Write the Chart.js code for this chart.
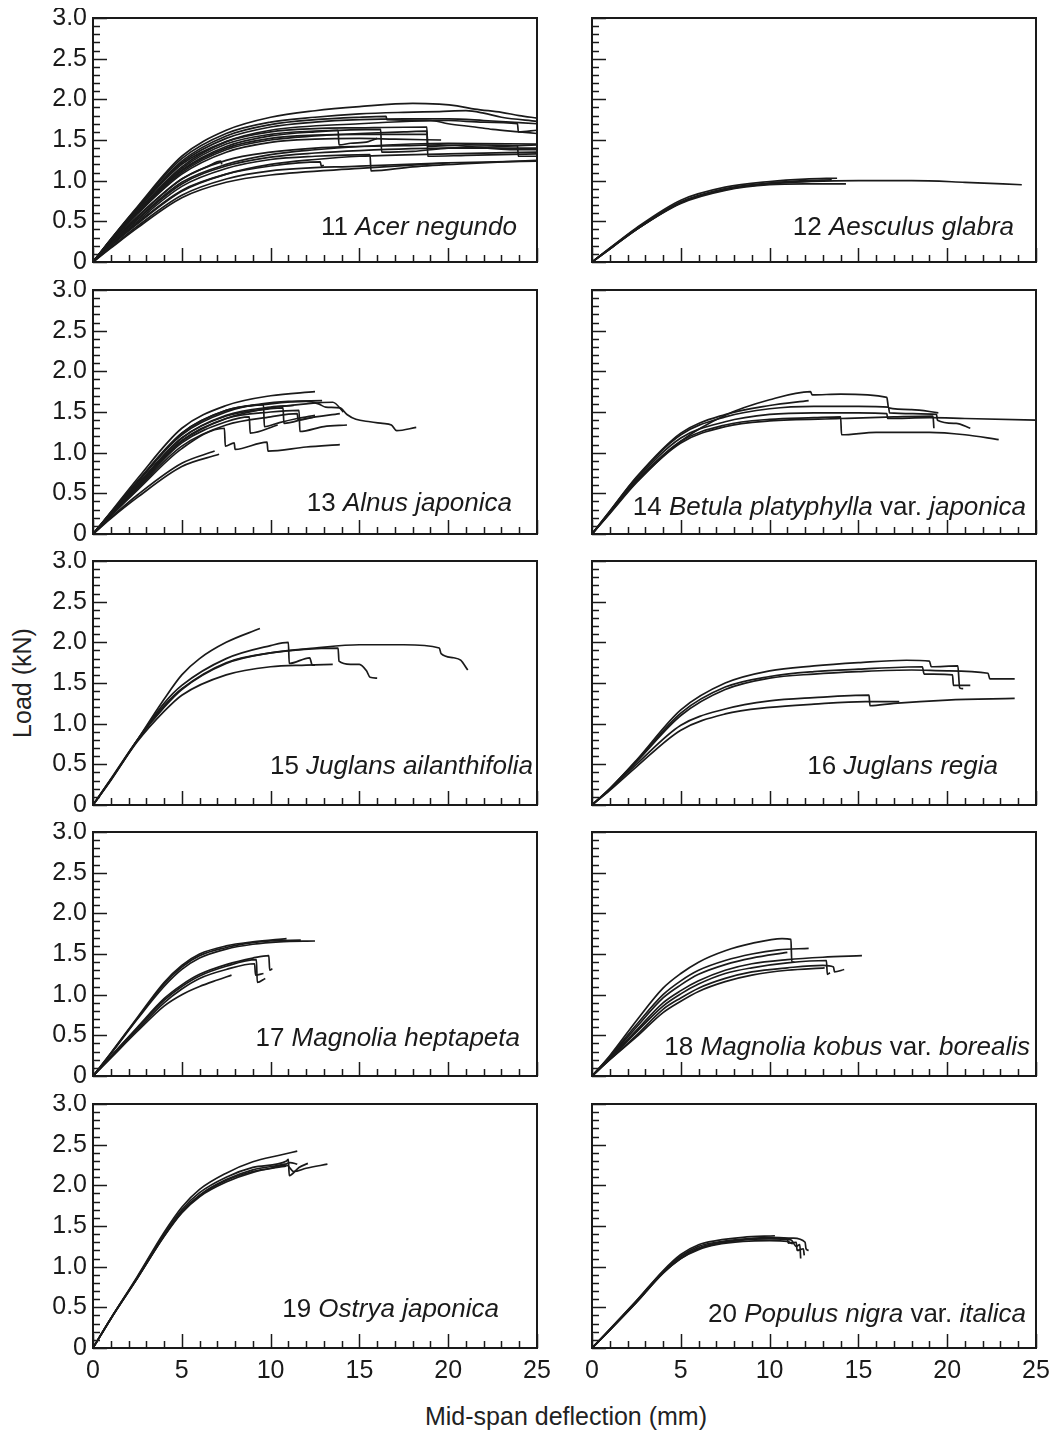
<!DOCTYPE html>
<html lang="en">
<head>
  <meta charset="UTF-8">
  <title>Load - mid-span deflection curves</title>
  <script src="https://cdn.jsdelivr.net/npm/chart.js@4"></script>
  <style>
    body { margin: 0; background: #fff; font-family: 'Liberation Sans', Arial, sans-serif; color: #222; }
    #page { position: relative; width: 1058px; height: 1433px; overflow: hidden; }
    .panel { position: absolute; }
    .axis-title { position: absolute; font-size: 25px; white-space: nowrap; }
    #ytitle { left: 22px; top: 683px; transform: translate(-50%, -50%) rotate(-90deg); }
    #xtitle { left: 566px; top: 1416px; transform: translate(-50%, -50%); }
  </style>
</head>
<body>
  <div id="page">
    <div id="ytitle" class="axis-title">Load (kN)</div>
    <div id="xtitle" class="axis-title">Mid-span deflection (mm)</div>
  </div>
  <script>
    // data: one array of curves per species, each curve = [deflection mm, load kN] pairs
    var acerNegundo = [
      [[0,0],[1,0.28],[2.5,0.68],[5,1.3],[7.5,1.62],[10,1.78],[12.5,1.86],[15,1.91],[18,1.95],[19.5,1.94],[20.5,1.92],[21.5,1.88],[23,1.84],[24,1.8],[25,1.77]],
      [[0,0],[1,0.28],[2.5,0.67],[5,1.27],[7.5,1.58],[10,1.72],[12.5,1.78],[15,1.82],[17.5,1.84],[19.5,1.85],[21,1.86],[22,1.83],[23,1.78],[25,1.73]],
      [[0,0],[1,0.27],[2.5,0.65],[5,1.24],[7.5,1.55],[10,1.69],[12.5,1.75],[15,1.78],[16.5,1.79],[16.55,1.75],[19,1.74],[20,1.7],[21.5,1.66],[22.5,1.63],[24,1.6],[25,1.58]],
      [[0,0],[1,0.27],[2.5,0.64],[5,1.2],[7.5,1.48],[10,1.6],[12.5,1.64],[15,1.65],[18.8,1.66],[18.85,1.3],[21,1.31],[25,1.33]],
      [[0,0],[1,0.26],[2.5,0.62],[5,1.15],[7.5,1.45],[10,1.57],[12.5,1.61],[13.8,1.62],[13.85,1.44],[14.5,1.46],[15.5,1.48],[16,1.52]],
      [[0,0],[1,0.26],[2.5,0.61],[5,1.13],[7.5,1.42],[10,1.55],[12.5,1.6],[16.2,1.63],[16.25,1.35],[18,1.36],[20,1.4],[23,1.42],[25,1.44]],
      [[0,0],[1,0.25],[2.5,0.6],[5,1.1],[7.5,1.38],[10,1.5],[12.5,1.55],[15,1.58],[17.5,1.6],[18.8,1.61],[18.85,1.42],[21,1.44],[23.9,1.43],[23.95,1.3],[25,1.3]],
      [[0,0],[1,0.25],[2.5,0.59],[5,1.08],[7.5,1.35],[10,1.47],[12.5,1.51],[15,1.52],[17,1.51],[19.6,1.5]],
      [[0,0],[1,0.26],[2.5,0.62],[5,1.17],[7.5,1.48],[10,1.62],[15,1.7],[20,1.74],[22,1.72],[23.9,1.7],[23.95,1.6],[25,1.62]],
      [[0,0],[1,0.22],[2.5,0.53],[5,0.98],[7.5,1.2],[10,1.32],[12.5,1.38],[15,1.42],[20,1.46],[25,1.45]],
      [[0,0],[1,0.22],[2.5,0.52],[5,0.96],[7.5,1.18],[10,1.29],[12.5,1.34],[15,1.37],[20,1.4],[25,1.4]],
      [[0,0],[1,0.21],[2.5,0.5],[5,0.93],[7.5,1.15],[10,1.26],[12.5,1.3],[15.6,1.32],[15.65,1.12],[18,1.17],[21,1.21],[25,1.25]],
      [[0,0],[1,0.23],[2.5,0.56],[5,1.02],[6.5,1.18],[7.2,1.24],[7.25,1.2]],
      [[0,0],[1,0.2],[2.5,0.48],[5,0.88],[7.5,1.08],[10,1.18],[12.8,1.23],[12.85,1.18],[13,1.19]],
      [[0,0],[1,0.18],[2.5,0.44],[5,0.82],[7.5,1.02],[10,1.12],[15,1.18],[20,1.22],[25,1.24]],
      [[0,0],[1,0.17],[2.5,0.42],[5,0.79],[7.5,0.98],[10,1.07],[15,1.15],[20.1,1.22]],
      [[0,0],[1,0.2],[2.5,0.47],[5,0.87],[7.5,1.08],[10,1.2],[12.5,1.26],[15,1.3],[20,1.33],[25,1.35]],
      [[0,0],[1,0.27],[2.5,0.66],[5,1.22],[7.5,1.52],[10,1.66],[12.5,1.72],[15,1.75],[17.5,1.76],[20,1.76],[22,1.74],[25,1.7]],
      [[0,0],[1,0.25],[2.5,0.61],[5,1.12],[7.5,1.4],[10,1.52],[12.5,1.56],[15,1.57],[18,1.57],[18.8,1.57]],
      [[0,0],[1,0.23],[2.5,0.55],[5,1.02],[7.5,1.25],[10,1.35],[12.5,1.4],[15,1.42],[17.5,1.43],[19.5,1.44],[23.9,1.38],[25,1.38]]
    ];
    var aesculusGlabra = [
      [[0,0],[1,0.17],[2.5,0.42],[5,0.76],[7.5,0.92],[10,0.99],[12,1.02],[13.8,1.03]],
      [[0,0],[1,0.17],[2.5,0.41],[5,0.74],[7.5,0.9],[10,0.97],[12,1.0],[13.5,1.01]],
      [[0,0],[1,0.16],[2.5,0.4],[5,0.72],[7.5,0.88],[10,0.95],[12,0.96],[14.3,0.96]],
      [[0,0],[1,0.16],[2.5,0.4],[5,0.73],[7.5,0.89],[10,0.96],[15,1.0],[18,1.0],[21,0.98],[24.2,0.95]],
      [[0,0],[1,0.16],[2.5,0.4],[5,0.73],[7.5,0.9],[10,0.97],[12,0.99],[13,1.0]]
    ];
    var alnusJaponica = [
      [[0,0],[1,0.27],[2.5,0.68],[5,1.3],[7.5,1.58],[10,1.7],[12.5,1.75]],
      [[0,0],[1,0.26],[2.5,0.65],[5,1.24],[7.5,1.52],[9.5,1.6],[11,1.63],[12.9,1.64]],
      [[0,0],[1,0.26],[2.5,0.64],[5,1.22],[7.5,1.5],[9.6,1.59],[9.65,1.32],[10.5,1.37],[11.5,1.42],[12.5,1.46]],
      [[0,0],[1,0.26],[2.5,0.63],[5,1.24],[7.5,1.52],[10,1.6],[12,1.63],[12.7,1.6],[13.1,1.56],[13.9,1.55],[14.3,1.47],[14.8,1.41],[15.6,1.38],[16.3,1.36],[16.8,1.34],[17.1,1.27],[18.2,1.31]],
      [[0,0],[1,0.25],[2.5,0.61],[5,1.18],[7.5,1.45],[10,1.54],[10.7,1.55],[10.75,1.36],[12,1.42],[13.9,1.48]],
      [[0,0],[1,0.24],[2.5,0.59],[5,1.15],[7.5,1.42],[10,1.5],[11.6,1.52],[11.65,1.26],[13,1.32],[14.3,1.34]],
      [[0,0],[1,0.23],[2.5,0.57],[5,1.12],[7.5,1.38],[8.8,1.44],[8.85,1.24],[10.4,1.34]],
      [[0,0],[1,0.22],[2.5,0.54],[5,1.05],[7.4,1.3],[7.45,1.08],[7.95,1.12],[8,1.04],[9.8,1.13],[9.85,1.02],[12,1.07],[13.9,1.1]],
      [[0,0],[1,0.2],[2.5,0.48],[5,0.87],[6.85,1.02]],
      [[0,0],[1,0.19],[2.5,0.45],[5,0.83],[7.1,0.98]],
      [[0,0],[1,0.25],[2.5,0.6],[5,1.18],[7.5,1.46],[10,1.56],[11.3,1.58]],
      [[0,0],[1,0.24],[2.5,0.59],[5,1.14],[7.5,1.42],[10,1.55],[12,1.6],[13.5,1.62],[14.1,1.5]],
      [[0,0],[1,0.23],[2.5,0.56],[5,1.08],[7.5,1.34],[10,1.44],[11.5,1.48],[11.55,1.4],[12.5,1.44]]
    ];
    var betulaPlatyphylla = [
      [[0,0],[1,0.25],[2.5,0.63],[5,1.14],[7.5,1.46],[10,1.65],[12.3,1.75],[12.4,1.71],[14,1.72],[16.6,1.68],[16.7,1.55],[18,1.53],[19.5,1.49]],
      [[0,0],[1,0.28],[2.5,0.7],[5,1.24],[7.5,1.47],[10,1.58],[12.2,1.64]],
      [[0,0],[1,0.28],[2.5,0.69],[5,1.22],[7.5,1.44],[10,1.54],[12.5,1.57],[15,1.57],[16.7,1.56],[16.75,1.49],[19.4,1.47],[19.45,1.4],[20.5,1.36],[21.3,1.3]],
      [[0,0],[1,0.27],[2.5,0.67],[5,1.18],[7.5,1.38],[10,1.47],[12.5,1.49],[15,1.49],[16.6,1.48],[16.65,1.42],[19,1.43],[21,1.42],[25,1.4]],
      [[0,0],[1,0.26],[2.5,0.65],[5,1.14],[7.5,1.34],[10,1.41],[12.5,1.43],[14,1.44],[14.05,1.22],[16,1.25],[19,1.25],[21,1.22],[22.9,1.16]],
      [[0,0],[1,0.26],[2.5,0.64],[5,1.12],[7.5,1.32],[10,1.39],[14,1.42],[17,1.44],[19.2,1.45],[19.25,1.3]]
    ];
    var juglansAilanthifolia = [
      [[0,0],[1,0.3],[2.5,0.8],[4,1.3],[5,1.6],[6,1.8],[7.5,2.0],[9.4,2.17]],
      [[0,0],[1,0.31],[2.5,0.8],[4,1.25],[5,1.47],[7.5,1.8],[10,1.96],[11,2.0],[11.05,1.74],[12.2,1.81],[12.35,1.72],[12.5,1.72]],
      [[0,0],[1,0.31],[2.5,0.8],[4,1.22],[5,1.43],[7.5,1.75],[10,1.87],[13.8,1.93],[13.85,1.77],[14.5,1.73],[15,1.73],[15.4,1.65],[15.6,1.57],[16,1.56]],
      [[0,0],[1,0.32],[2.5,0.8],[4,1.2],[5,1.42],[7.5,1.74],[10,1.87],[12.5,1.93],[15,1.97],[17.5,1.97],[19.5,1.93],[19.6,1.86],[20.3,1.81],[20.7,1.78],[21.1,1.66]],
      [[0,0],[1,0.31],[2.5,0.78],[4,1.15],[5,1.35],[7.5,1.6],[10,1.7],[12,1.72],[13.5,1.73]]
    ];
    var juglansRegia = [
      [[0,0],[1,0.2],[2.5,0.55],[5,1.17],[7.5,1.5],[10,1.65],[12.5,1.71],[15,1.75],[17.7,1.78],[19,1.77],[19.1,1.7],[20.6,1.71],[20.7,1.44],[20.9,1.43]],
      [[0,0],[1,0.2],[2.5,0.54],[5,1.13],[7.5,1.45],[10,1.58],[12.5,1.64],[15,1.67],[18.6,1.7],[18.7,1.61],[20.3,1.6],[20.35,1.47],[21.3,1.47]],
      [[0,0],[1,0.2],[2.5,0.53],[5,1.1],[7.5,1.42],[10,1.56],[12.5,1.61],[15,1.64],[18,1.66],[20,1.65],[22.3,1.62],[22.4,1.55],[23.8,1.55]],
      [[0,0],[1,0.19],[2.5,0.5],[5,0.98],[7.5,1.18],[10,1.28],[12.5,1.32],[15.6,1.35],[15.65,1.22],[17,1.25],[20,1.29],[23.8,1.31]],
      [[0,0],[1,0.18],[2.5,0.47],[5,0.92],[7.5,1.12],[10,1.2],[12.5,1.24],[15.4,1.27],[17.3,1.27]]
    ];
    var magnoliaHeptapeta = [
      [[0,0],[1,0.28],[2.5,0.72],[4,1.15],[5,1.36],[6,1.5],[7.5,1.6],[9,1.65],[10.9,1.69]],
      [[0,0],[1,0.28],[2.5,0.71],[4,1.13],[5,1.34],[6,1.48],[7.5,1.58],[9,1.64],[10,1.66],[11.7,1.67]],
      [[0,0],[1,0.27],[2.5,0.7],[4,1.1],[5,1.31],[6,1.45],[7.5,1.56],[9,1.62],[10.5,1.65],[12.5,1.66]],
      [[0,0],[1,0.24],[2.5,0.6],[4,0.95],[5,1.12],[6,1.25],[7.5,1.37],[9,1.45],[9.9,1.48],[9.95,1.3],[10.1,1.32]],
      [[0,0],[1,0.24],[2.5,0.59],[4,0.93],[5,1.1],[6,1.23],[7.5,1.35],[9.2,1.43],[9.25,1.15],[9.7,1.2]],
      [[0,0],[1,0.23],[2.5,0.57],[4,0.9],[5,1.07],[6,1.2],[7.5,1.31],[9.1,1.38],[9.15,1.24],[9.6,1.26]],
      [[0,0],[1,0.22],[2.5,0.55],[4,0.86],[5,1.0],[6,1.1],[7,1.18],[7.8,1.24]]
    ];
    var magnoliaKobus = [
      [[0,0],[1,0.25],[2.5,0.68],[4,1.08],[5,1.26],[6,1.4],[7.5,1.54],[9,1.63],[10.7,1.69],[11.2,1.68],[11.25,1.4],[11.4,1.4]],
      [[0,0],[1,0.24],[2.5,0.63],[4,1.0],[5,1.17],[6,1.3],[7.5,1.42],[9,1.5],[10.5,1.55],[12.2,1.57]],
      [[0,0],[1,0.23],[2.5,0.6],[4,0.96],[5,1.12],[6,1.25],[7.5,1.37],[9,1.45],[11,1.52]],
      [[0,0],[1,0.22],[2.5,0.56],[4,0.9],[5,1.05],[6,1.17],[7.5,1.3],[9,1.38],[11,1.43],[13,1.46],[15.2,1.48]],
      [[0,0],[1,0.21],[2.5,0.54],[4,0.86],[5,1.01],[6,1.13],[7.5,1.26],[9,1.33],[11,1.39],[13.2,1.42],[13.25,1.25],[13.4,1.27]],
      [[0,0],[1,0.2],[2.5,0.5],[4,0.82],[5,0.96],[6,1.08],[7.5,1.2],[9,1.28],[11,1.33],[13,1.36],[13.6,1.34],[13.65,1.28],[14.2,1.31]],
      [[0,0],[1,0.2],[2.5,0.48],[4,0.78],[5,0.92],[6,1.04],[7.5,1.16],[9,1.24],[11,1.3],[13.1,1.33]]
    ];
    var ostryaJaponica = [
      [[0,0],[1,0.36],[2.5,0.88],[4,1.42],[5,1.73],[6,1.95],[7.5,2.15],[9,2.29],[10.5,2.37],[11.5,2.42]],
      [[0,0],[1,0.36],[2.5,0.87],[4,1.4],[5,1.7],[6,1.91],[7.5,2.1],[9,2.22],[10.9,2.3],[11,2.32],[11.05,2.12],[11.6,2.22],[12.1,2.27]],
      [[0,0],[1,0.36],[2.5,0.86],[4,1.38],[5,1.68],[6,1.88],[7.5,2.07],[9,2.19],[10.8,2.26],[11.1,2.28],[11.5,2.26]],
      [[0,0],[1,0.36],[2.5,0.86],[4,1.38],[5,1.67],[6,1.87],[7.5,2.06],[9,2.17],[10,2.21],[10.9,2.25],[11.3,2.17],[12,2.21],[13.2,2.26]],
      [[0,0],[1,0.36],[2.5,0.86],[4,1.37],[5,1.66],[6,1.86],[7.5,2.04],[9,2.16],[10.9,2.24]]
    ];
    var populusNigra = [
      [[0,0],[1,0.23],[2.5,0.58],[4,0.95],[5,1.15],[6,1.27],[7,1.32],[8.5,1.36],[10.3,1.38]],
      [[0,0],[1,0.23],[2.5,0.58],[4,0.94],[5,1.13],[6,1.25],[7,1.3],[8.5,1.34],[10.5,1.35],[11,1.34],[11.05,1.29],[11.5,1.3],[11.55,1.2],[11.9,1.22],[11.95,1.14]],
      [[0,0],[1,0.22],[2.5,0.57],[4,0.93],[5,1.12],[6,1.23],[7,1.29],[8.5,1.33],[10,1.34],[11.2,1.33],[11.5,1.25],[11.7,1.27],[11.75,1.1]],
      [[0,0],[1,0.22],[2.5,0.56],[4,0.92],[5,1.1],[6,1.21],[7,1.27],[8.5,1.31],[10,1.32],[11,1.31],[11.3,1.28]],
      [[0,0],[1,0.22],[2.5,0.56],[4,0.92],[5,1.1],[6,1.22],[7,1.28],[8.5,1.33],[10,1.36],[11.3,1.35],[12,1.3],[12.05,1.22],[12.2,1.2]]
    ];

    // axis ranges
    var xRange = [0, 25], xMajor = 5;
    var yRange = [0, 3], yMajor = 0.5;

    var FAMILY = "'Liberation Sans', Arial, Helvetica, sans-serif";
    Chart.defaults.font.family = FAMILY;
    Chart.defaults.color = '#1a1a1a';

    // plot area geometry (page pixels)
    var colLeft = [93, 592], colRight = [537, 1036];
    var canvasLeft = [0, 560], canvasWidth = [560, 498];
    var rowTop = [18, 290, 561, 832, 1104], plotH = 244;

    var panels = [
      { curves: acerNegundo, col: 0, row: 0, label: [['11 ', 0], ['Acer negundo', 1]], lx: 517, lb: 235 },
      { curves: aesculusGlabra, col: 1, row: 0, label: [['12 ', 0], ['Aesculus glabra', 1]], lx: 1014, lb: 235 },
      { curves: alnusJaponica, col: 0, row: 1, label: [['13 ', 0], ['Alnus japonica', 1]], lx: 512, lb: 511 },
      { curves: betulaPlatyphylla, col: 1, row: 1, label: [['14 ', 0], ['Betula platyphylla', 1], [' var. ', 0], ['japonica', 1]], lx: 1026, lb: 515 },
      { curves: juglansAilanthifolia, col: 0, row: 2, label: [['15 ', 0], ['Juglans ailanthifolia', 1]], lx: 533, lb: 774 },
      { curves: juglansRegia, col: 1, row: 2, label: [['16 ', 0], ['Juglans regia', 1]], lx: 998, lb: 774 },
      { curves: magnoliaHeptapeta, col: 0, row: 3, label: [['17 ', 0], ['Magnolia heptapeta', 1]], lx: 520, lb: 1046 },
      { curves: magnoliaKobus, col: 1, row: 3, label: [['18 ', 0], ['Magnolia kobus', 1], [' var. ', 0], ['borealis', 1]], lx: 1030, lb: 1055 },
      { curves: ostryaJaponica, col: 0, row: 4, label: [['19 ', 0], ['Ostrya japonica', 1]], lx: 499, lb: 1317 },
      { curves: populusNigra, col: 1, row: 4, label: [['20 ', 0], ['Populus nigra', 1], [' var. ', 0], ['italica', 1]], lx: 1026, lb: 1322 }
    ];

    // box, inward ticks and species label
    var framePlugin = {
      id: 'frame',
      afterDraw: function(chart) {
        var ctx = chart.ctx, a = chart.chartArea, sx = chart.scales.x, sy = chart.scales.y;
        var p = chart.options.plugins.frame;
        ctx.save();
        ctx.strokeStyle = '#1a1a1a';
        ctx.lineWidth = 2;
        ctx.strokeRect(a.left, a.top, a.right - a.left, a.bottom - a.top);
        ctx.lineWidth = 1.5;
        ctx.beginPath();
        for (var i = 0; i <= 30; i++) {
          var py = Math.round(sy.getPixelForValue(i / 10)) + 0.5;
          ctx.moveTo(a.left, py);
          ctx.lineTo(a.left + (i % 5 === 0 ? 14 : 7), py);
        }
        for (var j = 0; j <= 25; j++) {
          var px = Math.round(sx.getPixelForValue(j)) + 0.5;
          ctx.moveTo(px, a.bottom);
          ctx.lineTo(px, a.bottom - (j % 5 === 0 ? 14 : 7));
        }
        ctx.stroke();

        ctx.fillStyle = '#1a1a1a';
        ctx.textBaseline = 'alphabetic';
        ctx.textAlign = 'left';
        var w = 0;
        p.label.forEach(function(part) {
          ctx.font = (part[1] ? 'italic ' : '') + '26px ' + FAMILY;
          w += ctx.measureText(part[0]).width;
        });
        var x = p.right - w;
        p.label.forEach(function(part) {
          ctx.font = (part[1] ? 'italic ' : '') + '26px ' + FAMILY;
          ctx.fillText(part[0], x, p.baseline);
          x += ctx.measureText(part[0]).width;
        });
        ctx.restore();
      }
    };

    var page = document.getElementById('page');
    panels.forEach(function(p) {
      var left = canvasLeft[p.col], width = canvasWidth[p.col];
      var top = rowTop[p.row] - 10;
      var bottomRow = p.row === 4;
      var xAxisH = bottomRow ? 44 : 0;
      var height = 10 + plotH + (bottomRow ? xAxisH : 10);

      var div = document.createElement('div');
      div.className = 'panel';
      div.style.left = left + 'px';
      div.style.top = top + 'px';
      var canvas = document.createElement('canvas');
      canvas.width = width; canvas.height = height;
      canvas.style.width = width + 'px'; canvas.style.height = height + 'px';
      div.appendChild(canvas);
      page.appendChild(div);

      var yAxisW = colLeft[p.col] - left;
      new Chart(canvas, {
        type: 'line',
        data: {
          datasets: p.curves.map(function(c) {
            return {
              data: c.map(function(pt) { return { x: pt[0], y: pt[1] }; }),
              borderColor: '#1a1a1a', borderWidth: 1.7,
              pointRadius: 0, fill: false,
              cubicInterpolationMode: 'monotone'
            };
          })
        },
        options: {
          responsive: false, animation: false,
          layout: { padding: { top: 10, right: left + width - colRight[p.col], bottom: bottomRow ? 0 : 10, left: 0 } },
          plugins: {
            legend: { display: false }, tooltip: { enabled: false },
            frame: { label: p.label, right: p.lx - left, baseline: p.lb - top }
          },
          scales: {
            x: {
              type: 'linear', min: xRange[0], max: xRange[1],
              grid: { display: false, drawTicks: false }, border: { display: false },
              ticks: { display: bottomRow, stepSize: xMajor, padding: 8, font: { size: 25 } },
              afterFit: function(s) { s.height = xAxisH; s.paddingLeft = 0; s.paddingRight = 0; }
            },
            y: {
              type: 'linear', min: yRange[0], max: yRange[1],
              grid: { display: false, drawTicks: false }, border: { display: false },
              ticks: {
                display: p.col === 0, stepSize: yMajor, padding: 6, font: { size: 25 },
                callback: function(v) { return v === 0 ? '0' : v.toFixed(1); }
              },
              afterFit: function(s) { s.width = yAxisW; s.paddingTop = 0; s.paddingBottom = 0; }
            }
          }
        },
        plugins: [framePlugin]
      });
    });
  </script>
</body>
</html>
